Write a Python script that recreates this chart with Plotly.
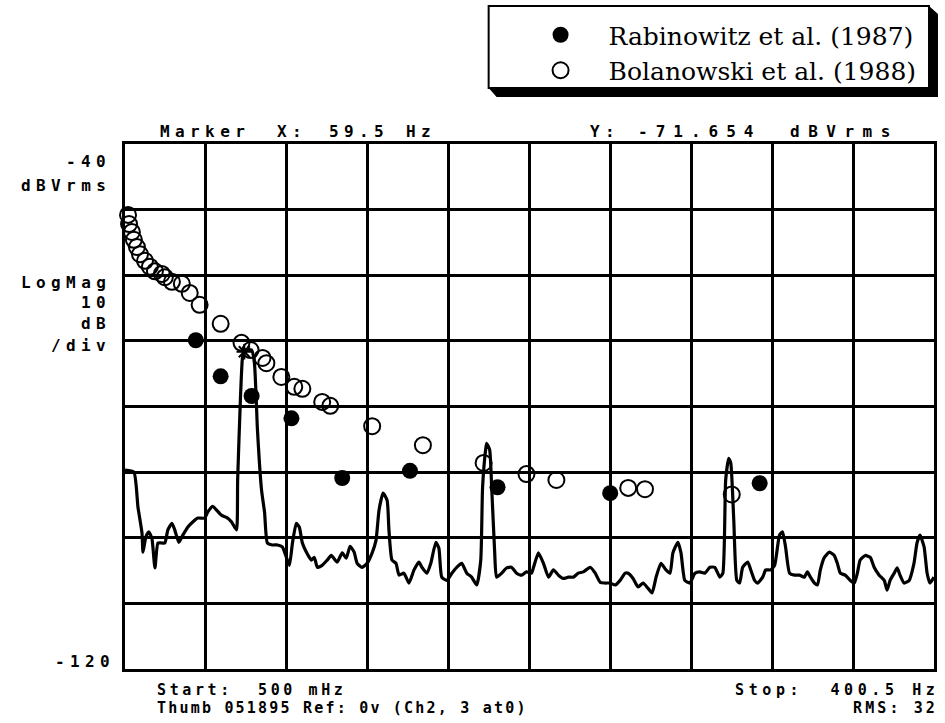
import plotly.graph_objects as go

# ---------------- data ----------------
freq_hz = [0.5, 4.9, 6.9, 8.9, 9.4, 10.8, 12.3, 13.8, 15.3, 16.8, 18.7, 20.2, 21.7, 23.7, 25.1, 27.1,
           29.1, 31.5, 34.0, 36.5, 39.9, 41.4, 43.9, 45.8, 48.3, 50.7, 53.2, 54.7, 55.7, 56.2, 57.6,
           58.6, 59.6, 63.1, 64.5, 66.0, 68.0, 69.5, 70.9, 73.4, 75.9, 78.3, 80.3, 81.8, 83.3, 85.2,
           86.7, 88.2, 90.2, 92.6, 94.1, 95.6, 98.0, 100.5, 102.5, 105.4, 107.9, 109.9, 111.8, 113.8,
           115.3, 117.7, 120.2, 122.7, 124.6, 126.1, 128.1, 130.1, 131.0, 132.5, 134.5, 136.0, 138.4,
           140.9, 143.4, 145.8, 147.3, 149.8, 151.7, 154.2, 155.7, 157.1, 159.6, 162.1, 164.5, 167.0,
           169.5, 171.9, 174.4, 176.4, 177.3, 178.8, 179.3, 180.8, 181.8, 183.3, 184.2, 186.7, 189.2,
           191.6, 194.1, 196.6, 199.0, 201.5, 202.5, 204.9, 207.4, 209.9, 212.3, 214.8, 217.2, 219.7,
           222.2, 224.6, 227.1, 230.5, 233.0, 235.5, 237.9, 240.4, 242.9, 245.3, 247.8, 249.3, 251.7,
           254.2, 256.7, 259.1, 261.1, 263.1, 265.5, 268.0, 270.0, 271.4, 273.9, 275.4, 277.3, 279.8,
           282.3, 284.7, 287.2, 289.7, 292.1, 294.6, 296.1, 297.5, 299.0, 300.0, 301.5, 303.0, 304.4,
           305.9, 308.4, 309.9, 311.8, 313.3, 315.8, 317.3, 319.7, 321.7, 324.1, 325.6, 327.1, 329.1,
           331.5, 334.0, 336.4, 337.9, 339.4, 341.4, 342.9, 344.3, 346.3, 348.8, 351.2, 352.7, 354.2,
           356.6, 359.1, 361.1, 362.6, 364.0, 366.5, 369.0, 370.9, 373.4, 375.9, 377.3, 378.8, 380.8,
           382.3, 383.7, 385.7, 388.2, 390.6, 392.1, 393.6, 395.6, 397.1, 398.5, 400.5]
level_db = [-89.7, -90.0, -95.3, -99.3, -102.2, -99.9, -99.1, -100.1, -104.6, -100.8, -100.8, -100.8,
            -98.8, -97.8, -98.8, -100.7, -99.6, -98.4, -97.6, -97.0, -97.0, -96.1, -95.2, -95.8, -96.6,
            -96.9, -97.6, -98.4, -98.8, -91.2, -78.6, -72.5, -71.4, -71.4, -73.4, -83.6, -92.7, -96.1,
            -100.8, -101.1, -101.1, -101.4, -103.0, -104.2, -100.8, -97.8, -98.4, -100.8, -102.2, -103.4,
            -103.0, -104.5, -104.2, -103.4, -102.7, -103.7, -102.3, -103.1, -101.3, -102.2, -103.9,
            -104.5, -103.9, -102.3, -100.4, -95.8, -93.2, -94.3, -98.8, -103.4, -103.9, -105.7, -105.4,
            -106.9, -104.9, -103.7, -104.5, -105.4, -103.9, -100.7, -101.6, -106.0, -106.5, -105.4,
            -104.5, -103.9, -105.4, -106.0, -107.2, -103.4, -92.3, -86.6, -85.6, -86.6, -92.3, -102.3,
            -106.0, -105.4, -104.6, -104.5, -105.4, -105.7, -105.2, -105.4, -104.5, -102.3, -103.9,
            -106.0, -104.9, -105.7, -106.2, -106.0, -106.0, -105.4, -105.2, -104.5, -105.4, -106.8,
            -106.9, -106.9, -107.2, -106.5, -105.4, -105.4, -106.2, -107.5, -106.9, -107.7, -108.4,
            -106.0, -103.9, -104.9, -105.4, -102.3, -100.7, -102.3, -106.5, -106.9, -105.4, -105.2,
            -105.4, -104.5, -104.5, -106.0, -105.4, -91.2, -87.9, -88.6, -97.3, -106.5, -106.9, -104.5,
            -103.7, -104.9, -106.5, -106.9, -106.0, -104.9, -104.9, -104.2, -99.6, -99.1, -101.4,
            -105.4, -105.7, -105.7, -106.0, -105.2, -106.0, -106.9, -107.2, -104.9, -103.0, -102.2,
            -102.7, -103.9, -105.4, -105.7, -106.5, -106.9, -105.4, -103.4, -102.7, -103.0, -104.5,
            -105.7, -106.5, -108.0, -106.5, -105.4, -104.6, -105.7, -106.9, -106.5, -103.9, -100.8,
            -99.6, -101.4, -105.4, -106.9, -106.0]

rabinowitz_hz = [-2.0, 35.5, 47.8, 63.1, 82.8, 107.9, 141.4, 184.7, 240.4, 314.3]
rabinowitz_db = [-49.8, -69.9, -75.4, -78.4, -81.8, -90.9, -89.8, -92.3, -93.2, -91.7]

bolanowski_hz = [-0.5, 2.0, 2.5, 3.9, 4.9, 6.4, 7.9, 10.4, 12.8, 15.3, 18.7, 20.2, 23.7, 28.6, 32.5,
                 37.4, 47.8, 58.1, 62.6, 68.5, 70.4, 77.8, 84.2, 88.2, 98.0, 102.0, 122.7, 147.8,
                 177.8, 199.0, 213.8, 249.3, 257.6, 300.5, 401.0]
bolanowski_db = [-49.8, -50.8, -52.2, -53.4, -54.6, -55.7, -56.8, -57.8, -58.7, -59.4, -59.8, -60.3,
                 -61.0, -61.3, -62.7, -64.5, -67.4, -70.3, -71.4, -72.6, -73.4, -75.5, -77.0, -77.3,
                 -79.3, -79.9, -83.0, -85.9, -88.6, -90.3, -91.2, -92.4, -92.6, -93.4, -91.4]

marker_hz = [59.5]
marker_db = [-71.654]

series_names = ["Rabinowitz et al. (1987)", "Bolanowski et al. (1988)"]

x_start, x_stop, x_div = 0.5, 400.5, 40
y_bottom, y_top, y_div = -120, -40, 10

# ---------------- layout geometry ----------------
W, H = 945, 723
ML, MR, MT, MB = 125, 8, 144, 54
PW, PH = W - ML - MR, H - MT - MB


def px(xp):
    return (xp - ML) / PW


def py(yp):
    return (H - MB - yp) / PH


fig = go.Figure()

fig.add_trace(go.Scatter(x=freq_hz, y=level_db, mode="lines",
                         line=dict(color="black", width=3.2, shape="spline", smoothing=0.5),
                         showlegend=False, hoverinfo="skip"))
fig.add_trace(go.Scatter(x=marker_hz, y=marker_db, mode="markers",
                         marker=dict(symbol="asterisk-open", size=13, color="black",
                                     line=dict(color="black", width=2)),
                         showlegend=False, cliponaxis=False))
fig.add_trace(go.Scatter(x=rabinowitz_hz, y=rabinowitz_db, mode="markers",
                         name=series_names[0], legendgroup="a",
                         marker=dict(symbol="circle", size=16, color="black"),
                         cliponaxis=False))
fig.add_trace(go.Scatter(x=bolanowski_hz, y=bolanowski_db, mode="markers",
                         name=series_names[1], legendgroup="b",
                         marker=dict(symbol="circle-open", size=16, color="black",
                                     line=dict(width=2, color="black")),
                         cliponaxis=False))

axis_common = dict(showgrid=True, gridcolor="black", gridwidth=2.5, showline=True,
                   mirror=True, linecolor="black", linewidth=3, zeroline=False,
                   showticklabels=False, ticks="")
fig.update_xaxes(range=[x_start, x_stop], tick0=x_start, dtick=x_div, **axis_common)
fig.update_yaxes(range=[y_bottom, y_top], tick0=y_bottom, dtick=y_div, **axis_common)

MONO = "DejaVu Sans Mono"
anns = []


def txt(text, x, y, anchor="left", size=16, ls=5.4, shift=0):
    anns.append(dict(text='<span style="letter-spacing:%gpx">%s</span>' % (ls, text),
                     x=px(x), y=py(y), xref="paper", yref="paper",
                     xanchor=anchor, yanchor="middle", showarrow=False,
                     xshift=shift,
                     font=dict(family=MONO, size=size, color="black", weight="bold")))


# top marker readout
txt("Marker", 158, 131)
txt("X:", 276, 131)
txt("59.5", 328, 131)
txt("Hz", 405, 131)
txt("Y:", 590, 131)
txt("-71.654", 638, 131, ls=8)
txt("dBVrms", 790, 131, ls=8.5)
# left scale labels
for t, yy in [("-40", 162), ("dBVrms", 185), ("LogMag", 282), ("10", 302),
              ("dB", 323), ("/div", 345), ("-120", 661)]:
    txt(t, 108 if t != "-120" else 112, yy, anchor="right", shift=5)
# bottom
txt("Start:  500 mHz", 155, 690, size=15, ls=3.6)
txt("Thumb 051895 Ref: 0v (Ch2, 3 at0)", 155, 708, size=15, ls=2.2)
txt("Stop:  400.5 Hz", 940, 690, anchor="right", size=15, ls=4.6, shift=4)
txt("RMS: 32", 940, 708, anchor="right", size=15, ls=3.1, shift=3)

# legend box with shadow
shapes = [
    dict(type="path", xref="paper", yref="paper", fillcolor="black", line=dict(width=0),
         path="M %f %f L %f %f L %f %f L %f %f L %f %f L %f %f Z" % (
             px(490), py(88), px(932), py(88), px(932), py(6), px(941), py(14),
             px(941), py(97), px(498), py(97))),
    dict(type="rect", xref="paper", yref="paper", x0=px(490), x1=px(932), y0=py(88), y1=py(6),
         fillcolor="white", line=dict(color="black", width=2)),
]

fig.update_layout(
    width=W, height=H, margin=dict(l=ML, r=MR, t=MT, b=MB),
    paper_bgcolor="white", plot_bgcolor="white",
    annotations=anns, shapes=shapes,
    legend=dict(x=px(514), y=py(12), xanchor="left", yanchor="top",
                bgcolor="rgba(0,0,0,0)", borderwidth=0, itemwidth=86,
                tracegroupgap=0,
                font=dict(family="DejaVu Serif", size=25, color="black")),
    showlegend=True,
)

fig.write_html("out.html")
